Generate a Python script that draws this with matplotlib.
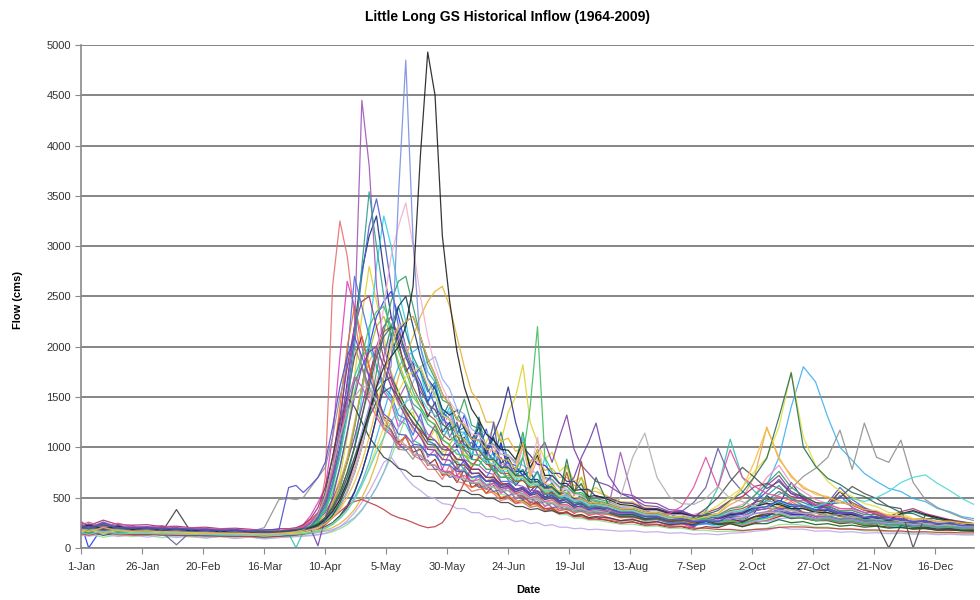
import matplotlib
matplotlib.use("Agg")
import matplotlib.pyplot as plt

plt.rcParams["font.family"] = ["Liberation Sans", "DejaVu Sans"]

# -------------------------
# Sample days (day of year, leap-year calendar as on the chart axis)
# -------------------------
WINTER_DAYS = [1, 4, 10, 16, 22, 28, 34, 40, 46, 52, 58, 64, 70, 76, 82, 86]
SPRING_DAYS = list(range(89, 213, 3))   # 89 .. 212
FALL_DAYS = list(range(217, 368, 5))    # 217 .. 367
DAYS = WINTER_DAYS + SPRING_DAYS + FALL_DAYS

TICK_DAYS = [1, 26, 51, 76, 101, 126, 151, 176, 201, 226, 251, 276, 301, 326, 351]
TICK_LABELS = ["1-Jan", "26-Jan", "20-Feb", "16-Mar", "10-Apr", "5-May", "30-May",
               "24-Jun", "19-Jul", "13-Aug", "7-Sep", "2-Oct", "27-Oct", "21-Nov", "16-Dec"]

YEARS = list(range(1964, 2010))

COLORS = {
    1964: "#1f2a80", 1965: "#e040c0", 1966: "#e0d030", 1967: "#30d0e8",
    1968: "#8040a0", 1969: "#902020", 1970: "#208080", 1971: "#2040f0",
    1972: "#40b0f0", 1973: "#90e090", 1974: "#e87070", 1975: "#90b0f0",
    1976: "#f090c0", 1977: "#c0a8e8", 1978: "#f0a050", 1979: "#4070f0",
    1980: "#30c0b0", 1981: "#a0c020", 1982: "#e8b030", 1983: "#f07020",
    1984: "#6060a0", 1985: "#909090", 1986: "#104060", 1987: "#30a060",
    1988: "#106020", 1989: "#a05030", 1990: "#a03070", 1991: "#303090",
    1992: "#404040", 1993: "#a058b8", 1994: "#4a5cc8", 1995: "#30a090",
    1996: "#f0b0d0", 1997: "#7b8fe0", 1998: "#c04040", 1999: "#40c060",
    2000: "#e0e040", 2001: "#505050", 2002: "#202020", 2003: "#7040b0",
    2004: "#e050a0", 2005: "#50d8d0", 2006: "#b0b0b0", 2007: "#2a6f5a",
    2008: "#5050d0", 2009: "#f0c040",
}

# -------------------------
# Flow (cms), Jan - Mar
# -------------------------
WINTER = {
    1964: [210, 170, 240, 160, 190, 150, 205, 140, 170, 130, 165, 125, 155, 120, 140, 170],
    1965: [260, 210, 240, 190, 220, 170, 210, 160, 190, 150, 175, 140, 160, 135, 150, 170],
    1966: [180, 210, 160, 195, 150, 185, 140, 170, 130, 160, 125, 150, 135, 120, 140, 150],
    1967: [150, 180, 135, 165, 145, 125, 155, 120, 145, 115, 135, 110, 130, 110, 125, 140],
    1968: [200, 230, 175, 215, 180, 205, 165, 190, 160, 185, 150, 175, 150, 165, 145, 170],
    1969: [160, 140, 185, 150, 135, 165, 125, 155, 130, 150, 120, 140, 125, 115, 135, 145],
    1970: [230, 195, 255, 190, 210, 180, 215, 170, 195, 165, 185, 160, 170, 150, 165, 165],
    1971: [230, 0, 215, 175, 205, 165, 195, 155, 175, 145, 170, 140, 155, 135, 155, 160],
    1972: [170, 150, 185, 140, 165, 135, 160, 130, 155, 125, 150, 122, 140, 125, 135, 145],
    1973: [120, 135, 105, 128, 112, 125, 100, 118, 108, 98, 112, 95, 108, 92, 102, 110],
    1974: [190, 215, 175, 205, 165, 190, 160, 180, 155, 175, 145, 165, 148, 140, 158, 165],
    1975: [140, 155, 125, 150, 130, 128, 142, 118, 132, 112, 128, 108, 122, 108, 117, 125],
    1976: [200, 170, 215, 180, 185, 190, 170, 175, 165, 165, 155, 160, 160, 140, 155, 160],
    1977: [130, 115, 138, 112, 128, 106, 122, 102, 118, 98, 112, 93, 108, 88, 102, 105],
    1978: [170, 195, 155, 185, 160, 155, 165, 150, 150, 145, 145, 140, 140, 138, 135, 150],
    1979: [210, 180, 225, 190, 190, 165, 195, 160, 178, 155, 172, 150, 155, 140, 158, 160],
    1980: [160, 180, 145, 170, 150, 145, 145, 140, 140, 135, 135, 130, 130, 128, 127, 140],
    1981: [190, 160, 205, 175, 170, 180, 160, 165, 155, 155, 150, 150, 145, 145, 140, 150],
    1982: [150, 135, 165, 140, 140, 145, 135, 135, 130, 130, 124, 126, 124, 112, 128, 130],
    1983: [220, 190, 245, 200, 200, 205, 185, 195, 180, 185, 175, 175, 168, 165, 163, 175],
    1984: [180, 160, 195, 165, 165, 170, 155, 30, 165, 145, 170, 140, 145, 145, 138, 145],
    1985: [200, 170, 215, 180, 180, 185, 170, 175, 165, 165, 160, 160, 160, 200, 480, 490],
    1986: [170, 190, 155, 180, 160, 155, 155, 150, 150, 145, 145, 140, 140, 135, 135, 150],
    1987: [210, 240, 195, 225, 190, 185, 195, 180, 180, 175, 175, 165, 160, 160, 155, 170],
    1988: [140, 160, 125, 150, 130, 130, 135, 125, 125, 122, 120, 116, 116, 113, 114, 125],
    1989: [190, 170, 205, 180, 175, 180, 165, 170, 160, 160, 155, 155, 155, 135, 150, 155],
    1990: [250, 220, 275, 230, 225, 230, 210, 215, 200, 205, 190, 195, 185, 170, 190, 190],
    1991: [160, 145, 175, 150, 150, 155, 145, 145, 140, 140, 135, 135, 135, 120, 137, 140],
    1992: [170, 150, 185, 160, 160, 165, 155, 380, 155, 155, 150, 150, 145, 145, 140, 145],
    1993: [230, 200, 255, 210, 205, 210, 195, 200, 185, 190, 175, 180, 170, 165, 165, 175],
    1994: [200, 175, 220, 185, 185, 190, 175, 180, 170, 170, 160, 165, 155, 150, 150, 160],
    1995: [180, 205, 165, 195, 170, 165, 175, 160, 160, 155, 155, 150, 145, 145, 140, 155],
    1996: [150, 170, 135, 160, 140, 140, 145, 135, 135, 130, 130, 125, 125, 125, 123, 135],
    1997: [190, 165, 205, 170, 175, 180, 165, 170, 160, 160, 155, 155, 150, 145, 145, 155],
    1998: [140, 125, 155, 130, 130, 135, 125, 125, 120, 120, 115, 115, 112, 103, 115, 118],
    1999: [170, 150, 185, 155, 155, 160, 150, 150, 145, 145, 140, 140, 138, 127, 140, 145],
    2000: [160, 180, 145, 175, 150, 150, 155, 145, 145, 140, 140, 135, 130, 132, 128, 140],
    2001: [180, 160, 195, 170, 170, 175, 160, 165, 155, 155, 150, 150, 145, 137, 150, 155],
    2002: [200, 225, 185, 215, 180, 205, 170, 195, 165, 185, 155, 180, 155, 160, 160, 170],
    2003: [190, 215, 175, 205, 170, 195, 160, 185, 155, 175, 145, 170, 145, 150, 150, 160],
    2004: [230, 255, 205, 245, 210, 205, 220, 195, 200, 190, 190, 180, 175, 175, 173, 185],
    2005: [150, 135, 165, 140, 143, 145, 135, 138, 133, 133, 127, 127, 130, 113, 129, 132],
    2006: [170, 190, 155, 180, 160, 155, 165, 150, 155, 145, 145, 140, 140, 140, 135, 150],
    2007: [210, 185, 230, 195, 195, 200, 185, 190, 180, 180, 170, 175, 165, 160, 163, 175],
    2008: [220, 195, 245, 200, 200, 205, 190, 195, 185, 185, 175, 180, 165, 180, 180, 600],
    2009: [180, 160, 200, 170, 165, 170, 155, 160, 150, 150, 145, 145, 142, 133, 145, 150],
}

# -------------------------
# Flow (cms), Apr - Jul (every 3 days)
# -------------------------
SPRING = {
    1964: [170, 200, 230, 330, 450, 720, 1100, 1650, 2200, 2750, 3100, 3300, 2750, 2300, 2050, 1750, 1850, 1500,
           1300, 1450, 1150, 1250, 1000, 1100, 880, 1250, 900, 760, 1050, 760, 620, 700, 560, 640, 500, 560,
           460, 520, 420, 470, 390, 410],
    1965: [180, 230, 320, 450, 600, 1100, 1900, 2650, 2400, 2000, 1700, 1950, 1550, 1450, 1200, 1300, 1050, 1150,
           900, 980, 780, 950, 720, 800, 640, 720, 580, 650, 540, 600, 480, 530, 440, 520, 410, 450,
           370, 400, 340, 380, 320, 340],
    1966: [160, 170, 190, 230, 300, 450, 700, 1100, 1700, 2300, 2800, 2450, 2100, 1750, 1550, 1300, 1350, 1100,
           1050, 1180, 950, 1000, 850, 980, 800, 920, 1050, 1200, 1050, 1350, 1500, 1820, 1250, 1050, 880, 950,
           760, 820, 660, 700, 560, 600],
    1967: [150, 160, 175, 200, 240, 330, 480, 700, 1000, 1500, 2100, 2800, 3300, 3000, 2550, 2250, 1850, 1750,
           1450, 1550, 1250, 1400, 1050, 1150, 920, 1080, 860, 950, 780, 850, 700, 1100, 760, 600, 900, 620,
           490, 540, 430, 470, 390, 410],
    1968: [180, 200, 230, 280, 350, 480, 650, 850, 1100, 1400, 1700, 2000, 2200, 2300, 2100, 1900, 1750, 1550,
           1450, 1300, 1350, 1100, 1250, 1000, 1050, 900, 980, 850, 900, 760, 800, 720, 850, 950, 1050, 850,
           1100, 1320, 980, 820, 740, 660],
    1969: [160, 190, 240, 340, 500, 750, 1100, 1500, 1900, 2100, 1800, 1550, 1300, 1250, 1050, 1100, 950, 980,
           820, 880, 720, 760, 650, 780, 600, 640, 540, 620, 490, 520, 440, 470, 420, 460, 370, 390,
           340, 360, 310, 330, 290, 300],
    1970: [170, 180, 190, 210, 250, 300, 400, 550, 750, 1000, 1300, 1600, 1900, 2200, 2400, 2150, 1900, 1750,
           1550, 1650, 1300, 1450, 1150, 1200, 980, 1300, 950, 880, 1150, 850, 720, 780, 650, 760, 600, 640,
           540, 580, 480, 520, 440, 460],
    1971: [170, 180, 200, 240, 300, 420, 600, 850, 1200, 1600, 2000, 2300, 2450, 2550, 2300, 2000, 1800, 1650,
           1450, 1620, 1350, 1280, 1120, 1320, 1080, 980, 1180, 920, 1020, 840, 820, 720, 760, 620, 640, 540,
           540, 480, 500, 430, 440, 390],
    1972: [150, 155, 165, 180, 200, 240, 300, 380, 500, 650, 850, 1100, 1350, 1600, 1800, 1900, 1950, 2000,
           1750, 1650, 1350, 1350, 1150, 1150, 980, 1000, 860, 900, 760, 800, 700, 720, 620, 660, 560, 580,
           500, 530, 450, 470, 410, 420],
    1973: [115, 120, 125, 130, 140, 160, 190, 230, 290, 370, 480, 600, 750, 900, 1100, 1300, 1400, 1250,
           1080, 1020, 880, 870, 780, 770, 690, 660, 610, 600, 530, 520, 470, 460, 410, 410, 370, 370,
           330, 330, 295, 295, 275, 275],
    1974: [180, 200, 230, 280, 700, 2600, 3250, 2900, 2300, 1800, 1500, 1450, 1200, 1150, 980, 1120, 920, 880,
           780, 780, 680, 820, 660, 640, 560, 580, 590, 540, 470, 490, 440, 450, 400, 420, 370, 380,
           340, 350, 320, 330, 300, 310],
    1975: [130, 135, 140, 150, 165, 180, 210, 250, 300, 380, 480, 600, 750, 950, 1200, 1450, 1650, 1800,
           1850, 1900, 1680, 1580, 1380, 1330, 1180, 1130, 1160, 1020, 970, 920, 860, 820, 770, 740, 690, 660,
           610, 580, 550, 520, 490, 470],
    1976: [170, 180, 200, 230, 280, 350, 450, 600, 800, 1050, 1350, 1650, 1900, 2100, 2200, 2000, 1800, 1600,
           1420, 1380, 1220, 1330, 1120, 1080, 980, 970, 880, 1020, 830, 820, 740, 1000, 700, 880, 600, 590,
           530, 520, 480, 480, 440, 440],
    1977: [110, 115, 120, 130, 145, 170, 210, 270, 350, 450, 560, 700, 850, 900, 800, 700, 620, 570,
           510, 490, 440, 430, 390, 390, 350, 350, 310, 310, 280, 290, 260, 270, 240, 250, 220, 230,
           205, 205, 190, 195, 180, 185],
    1978: [160, 175, 200, 250, 330, 450, 650, 900, 1250, 1600, 1850, 2000, 1800, 1620, 1420, 1330, 1170, 1130,
           980, 980, 870, 1030, 820, 830, 730, 750, 660, 720, 620, 620, 550, 560, 490, 510, 450, 470,
           420, 420, 380, 390, 350, 360],
    1979: [180, 200, 250, 330, 480, 750, 1200, 1900, 2700, 2400, 2100, 1800, 1600, 1520, 1320, 1280, 1120, 1330,
           1060, 1030, 920, 930, 980, 840, 780, 780, 700, 820, 660, 660, 580, 590, 530, 540, 480, 500,
           450, 450, 410, 410, 370, 380],
    1980: [0, 160, 200, 260, 380, 600, 900, 1300, 1700, 1900, 2000, 1800, 1580, 1480, 1270, 1230, 1070, 1030,
           920, 930, 820, 830, 860, 780, 700, 700, 630, 640, 580, 600, 530, 540, 480, 500, 450, 450,
           410, 410, 370, 380, 350, 360],
    1981: [160, 170, 190, 230, 300, 420, 600, 850, 1200, 1600, 1950, 2200, 2300, 2100, 1850, 1650, 1500, 1400,
           1270, 1230, 1070, 1030, 1130, 920, 880, 870, 780, 780, 700, 720, 660, 670, 600, 620, 550, 570,
           500, 820, 560, 700, 480, 430],
    1982: [135, 140, 150, 160, 175, 200, 240, 300, 380, 500, 650, 850, 1100, 1400, 1700, 1900, 2100, 2300,
           2450, 2550, 2600, 2400, 2100, 1800, 1550, 1450, 1250, 1250, 1060, 1090, 960, 990, 860, 890, 770, 790,
           700, 700, 620, 620, 560, 560],
    1983: [190, 220, 280, 350, 450, 800, 1400, 2000, 2400, 2100, 1800, 1520, 1280, 1170, 1030, 1120, 930, 920,
           830, 820, 730, 720, 800, 640, 600, 620, 540, 560, 500, 520, 460, 480, 430, 430, 390, 400,
           370, 380, 350, 360, 330, 340],
    1984: [150, 170, 210, 300, 450, 700, 1000, 1350, 1650, 1800, 1600, 1420, 1230, 1170, 1030, 970, 1020, 880,
           870, 780, 780, 700, 720, 660, 670, 600, 620, 560, 580, 520, 540, 480, 500, 440, 460, 400,
           410, 380, 390, 360, 370, 345],
    1985: [480, 500, 600, 700, 800, 1100, 1500, 1800, 2000, 1800, 1550, 1350, 1200, 1120, 980, 970, 880, 1020,
           830, 820, 740, 740, 820, 690, 640, 640, 580, 720, 560, 570, 500, 520, 460, 480, 420, 440,
           390, 390, 360, 370, 340, 350],
    1986: [155, 160, 170, 185, 210, 250, 320, 420, 560, 750, 1000, 1300, 1700, 2100, 2400, 2500, 2200, 1900,
           1680, 1580, 1380, 1320, 1370, 1180, 1080, 1200, 930, 1100, 840, 900, 760, 760, 680, 680, 600, 610,
           540, 550, 490, 490, 450, 450],
    1987: [175, 185, 200, 225, 260, 320, 420, 560, 750, 1000, 1350, 1750, 2150, 2450, 2650, 2700, 2400, 2100,
           1830, 1680, 1470, 1430, 1270, 1480, 1220, 1180, 1020, 1030, 930, 920, 840, 1150, 780, 980, 700, 680,
           600, 610, 540, 550, 490, 490],
    1988: [130, 140, 155, 180, 230, 320, 450, 620, 850, 1100, 1350, 1550, 1650, 1700, 1550, 1400, 1300, 1200,
           1080, 1070, 980, 970, 880, 870, 780, 780, 700, 700, 630, 640, 580, 600, 540, 560, 500, 520,
           460, 480, 420, 440, 380, 400],
    1989: [160, 175, 200, 240, 300, 400, 550, 750, 1000, 1300, 1650, 1950, 2150, 2200, 2000, 1800, 1600, 1450,
           1330, 1270, 1130, 1070, 1120, 980, 930, 920, 830, 820, 740, 740, 660, 670, 600, 610, 540, 550,
           490, 750, 520, 860, 480, 410],
    1990: [200, 230, 290, 400, 600, 900, 1300, 1800, 2200, 2450, 2500, 2200, 1880, 1670, 1480, 1370, 1230, 1170,
           1080, 1220, 1030, 970, 880, 870, 780, 780, 700, 700, 630, 640, 580, 600, 540, 560, 500, 520,
           470, 490, 430, 450, 400, 420],
    1991: [145, 150, 160, 175, 200, 240, 300, 400, 550, 750, 1000, 1300, 1600, 1900, 2150, 2250, 2300, 2100,
           1880, 1720, 1530, 1420, 1280, 1220, 1080, 1070, 980, 1120, 1300, 1600, 1250, 1000, 920, 830, 820, 740,
           740, 660, 660, 580, 580, 510],
    1992: [150, 170, 220, 330, 550, 900, 1250, 1500, 1400, 1250, 1100, 1000, 900, 860, 790, 770, 710, 710,
           670, 660, 610, 610, 570, 570, 530, 530, 490, 490, 450, 450, 410, 410, 380, 390, 360, 370,
           340, 350, 320, 330, 300, 310],
    1993: [185, 210, 260, 350, 500, 800, 1200, 1600, 2200, 4450, 3800, 2600, 2000, 1720, 1480, 1620, 1380, 1270,
           1130, 1070, 980, 970, 1070, 880, 840, 820, 750, 730, 820, 670, 630, 610, 570, 570, 530, 530,
           490, 490, 450, 460, 430, 430],
    1994: [170, 190, 230, 300, 420, 650, 1000, 1500, 2100, 2700, 3200, 3470, 3100, 2600, 2200, 1900, 1700, 1800,
           1580, 1420, 1280, 1220, 1130, 1070, 980, 1150, 880, 1250, 780, 860, 700, 700, 630, 640, 570, 580,
           520, 510, 470, 470, 430, 430],
    1995: [160, 175, 210, 280, 400, 620, 950, 1400, 2000, 2800, 3540, 3000, 2500, 2100, 1800, 1620, 1430, 1370,
           1230, 1170, 1080, 1220, 1030, 970, 880, 870, 780, 780, 700, 700, 630, 900, 620, 760, 530, 530,
           490, 490, 450, 450, 410, 410],
    1996: [140, 150, 165, 190, 230, 300, 400, 550, 750, 1000, 1400, 1900, 2400, 2900, 3200, 3430, 3000, 2500,
           2100, 1800, 1600, 1450, 1350, 1250, 1130, 1120, 1030, 1020, 930, 920, 830, 1000, 740, 1100, 680, 660,
           590, 580, 530, 520, 470, 470],
    1997: [160, 170, 190, 220, 270, 350, 480, 650, 900, 1150, 1400, 1600, 1700, 1800, 3500, 4850, 3050, 2000,
           1680, 1520, 1330, 1270, 1130, 1070, 980, 970, 880, 870, 780, 780, 700, 700, 630, 640, 570, 580,
           520, 510, 470, 470, 430, 430],
    1998: [125, 135, 150, 180, 230, 300, 360, 420, 460, 480, 450, 420, 380, 330, 300, 280, 250, 220,
           200, 210, 250, 350, 500, 650, 800, 900, 850, 760, 650, 620, 540, 510, 450, 440, 390, 390,
           350, 350, 310, 310, 285, 285],
    1999: [150, 165, 200, 260, 370, 550, 800, 1150, 1550, 1900, 2200, 2350, 2400, 2200, 1950, 1750, 1550, 1400,
           1280, 1220, 1080, 1020, 930, 920, 830, 820, 920, 760, 760, 680, 770, 900, 1400, 2200, 900, 760,
           640, 610, 550, 530, 480, 470],
    2000: [145, 150, 160, 175, 200, 240, 300, 380, 480, 620, 800, 1000, 1200, 1400, 1550, 1700, 1750, 1800,
           1620, 1530, 1320, 1280, 1120, 1080, 980, 970, 880, 870, 780, 780, 700, 700, 630, 640, 570, 580,
           520, 510, 470, 470, 430, 430],
    2001: [160, 170, 190, 220, 280, 380, 520, 700, 900, 1100, 1300, 1450, 1550, 1600, 1500, 1350, 1250, 1150,
           1030, 1020, 930, 920, 830, 820, 740, 740, 660, 660, 600, 610, 560, 580, 520, 540, 480, 500,
           440, 460, 400, 420, 360, 380],
    2002: [175, 185, 200, 230, 280, 360, 480, 650, 850, 1100, 1350, 1600, 1800, 1900, 2000, 2200, 2600, 3900,
           4930, 4500, 3100, 2450, 1950, 1600, 1380, 1270, 1130, 1070, 980, 970, 880, 1050, 800, 920, 720, 720,
           640, 640, 570, 580, 510, 520],
    2003: [165, 175, 190, 20, 300, 500, 800, 1150, 1500, 1800, 1950, 2000, 1800, 1600, 1450, 1300, 1200, 1100,
           980, 970, 880, 870, 780, 870, 740, 740, 660, 670, 600, 620, 560, 580, 520, 610, 640, 720,
           640, 610, 700, 900, 1050, 1240],
    2004: [190, 210, 260, 350, 500, 750, 1100, 1450, 1700, 1600, 1450, 1300, 1180, 1120, 1030, 1020, 930, 920,
           830, 820, 760, 760, 700, 720, 660, 680, 620, 640, 580, 600, 540, 560, 500, 520, 460, 480,
           430, 430, 390, 400, 370, 380],
    2005: [135, 140, 150, 165, 190, 230, 290, 370, 480, 620, 780, 950, 1100, 1250, 1380, 1450, 1500, 1500,
           1380, 1320, 1180, 1120, 1030, 1020, 930, 920, 840, 840, 760, 760, 680, 690, 620, 630, 560, 570,
           510, 510, 470, 470, 430, 430],
    2006: [160, 180, 230, 330, 520, 800, 1100, 1350, 1500, 1600, 1600, 1450, 1280, 1220, 1080, 1020, 930, 920,
           830, 820, 740, 740, 690, 690, 650, 650, 610, 610, 570, 570, 530, 530, 490, 490, 450, 450,
           410, 410, 380, 390, 360, 370],
    2007: [180, 190, 210, 240, 300, 400, 550, 750, 1000, 1300, 1600, 1900, 2100, 2200, 2150, 1950, 1750, 1600,
           1430, 1370, 1230, 1170, 1220, 1030, 980, 970, 880, 880, 800, 800, 720, 720, 650, 660, 590, 600,
           530, 880, 560, 640, 450, 700],
    2008: [620, 550, 620, 700, 850, 1200, 1600, 1900, 2100, 1900, 1700, 1500, 1330, 1270, 1130, 1120, 1030, 1020,
           930, 920, 830, 820, 760, 760, 700, 720, 660, 680, 620, 640, 580, 600, 540, 560, 500, 520,
           460, 480, 420, 440, 380, 400],
    2009: [155, 165, 180, 200, 240, 300, 380, 500, 650, 850, 1100, 1400, 1700, 2000, 2200, 2250, 2300, 2100,
           1880, 1720, 1530, 1420, 1280, 1220, 1080, 1070, 980, 970, 880, 870, 780, 1050, 700, 980, 640, 620,
           560, 550, 500, 490, 450, 450],
}

# -------------------------
# Flow (cms), Aug - Dec (every 5 days)
# -------------------------
FALL = {
    1964: [360, 310, 340, 270, 300, 240, 260, 210, 280, 240, 330, 270, 350, 520, 430, 650, 480, 400,
           420, 560, 430, 380, 330, 300, 250, 270, 220, 240, 200, 210, 185],
    1965: [300, 270, 290, 240, 260, 220, 240, 200, 310, 260, 290, 230, 280, 330, 380, 440, 350, 310,
           380, 320, 270, 310, 250, 260, 220, 240, 200, 210, 180, 190, 170],
    1966: [500, 430, 460, 360, 380, 310, 300, 250, 280, 230, 260, 240, 310, 360, 430, 500, 420, 380,
           330, 360, 280, 300, 240, 250, 220, 230, 200, 200, 180, 175, 160],
    1967: [360, 310, 330, 260, 290, 240, 260, 220, 240, 210, 260, 230, 270, 300, 330, 380, 310, 290,
           300, 260, 280, 230, 250, 220, 210, 220, 190, 195, 180, 180, 170],
    1968: [620, 540, 520, 450, 440, 380, 370, 320, 340, 300, 320, 350, 450, 620, 720, 560, 500, 420,
           420, 360, 350, 310, 300, 270, 270, 250, 250, 230, 220, 210, 200],
    1969: [270, 240, 260, 220, 230, 200, 210, 180, 210, 200, 240, 210, 250, 270, 310, 340, 290, 270,
           270, 240, 250, 220, 220, 205, 200, 190, 190, 175, 175, 170, 165],
    1970: [410, 370, 380, 320, 330, 280, 300, 280, 350, 310, 320, 360, 400, 470, 560, 490, 450, 400,
           400, 340, 340, 300, 300, 270, 330, 360, 320, 300, 270, 240, 210],
    1971: [390, 340, 350, 290, 300, 250, 250, 220, 260, 300, 260, 240, 280, 310, 370, 420, 350, 320,
           320, 270, 290, 240, 250, 220, 225, 205, 205, 190, 192, 182, 180],
    1972: [390, 340, 340, 290, 300, 250, 260, 230, 240, 270, 300, 360, 440, 620, 900, 1400, 1800, 1650,
           1300, 1000, 870, 740, 660, 590, 560, 490, 460, 390, 360, 310, 290],
    1973: [255, 235, 235, 215, 215, 195, 195, 175, 175, 160, 165, 165, 185, 195, 230, 235, 225, 205,
           205, 185, 185, 168, 168, 158, 158, 148, 148, 138, 142, 132, 130],
    1974: [290, 270, 280, 250, 260, 230, 240, 230, 270, 240, 250, 220, 260, 270, 330, 350, 340, 290,
           300, 270, 280, 250, 260, 230, 235, 215, 215, 195, 200, 185, 185],
    1975: [440, 400, 390, 350, 350, 310, 310, 280, 290, 260, 270, 240, 270, 260, 290, 300, 300, 270,
           280, 255, 255, 235, 240, 225, 228, 215, 218, 205, 208, 195, 195],
    1976: [420, 380, 380, 340, 340, 300, 310, 330, 370, 330, 390, 430, 520, 700, 820, 640, 560, 480,
           440, 390, 380, 330, 330, 290, 290, 260, 270, 245, 245, 225, 220],
    1977: [175, 165, 170, 155, 160, 145, 150, 135, 140, 130, 145, 150, 165, 175, 205, 185, 185, 165,
           170, 155, 160, 145, 150, 140, 145, 135, 140, 130, 135, 128, 128],
    1978: [340, 300, 300, 270, 280, 250, 260, 250, 310, 340, 430, 490, 710, 1200, 880, 720, 590, 550,
           490, 470, 410, 390, 340, 330, 295, 285, 255, 255, 235, 235, 220],
    1979: [360, 320, 320, 280, 280, 250, 260, 230, 240, 230, 270, 270, 310, 330, 390, 340, 330, 290,
           380, 520, 400, 350, 300, 270, 245, 225, 225, 205, 205, 190, 190],
    1980: [340, 300, 310, 280, 290, 260, 270, 270, 360, 600, 1080, 700, 560, 470, 440, 390, 390, 350,
           350, 310, 310, 280, 290, 260, 265, 245, 245, 225, 225, 205, 200],
    1981: [410, 370, 370, 330, 330, 290, 300, 270, 280, 250, 260, 280, 290, 330, 360, 320, 320, 280,
           290, 260, 270, 240, 245, 225, 230, 210, 220, 205, 208, 195, 195],
    1982: [510, 460, 450, 400, 390, 350, 350, 310, 310, 280, 290, 290, 340, 350, 410, 370, 360, 320,
           320, 280, 290, 260, 265, 245, 245, 225, 225, 210, 212, 200, 200],
    1983: [330, 300, 310, 280, 290, 260, 270, 240, 280, 310, 270, 260, 300, 360, 400, 460, 390, 360,
           350, 310, 310, 270, 275, 255, 255, 235, 235, 215, 212, 200, 195],
    1984: [350, 310, 310, 280, 290, 300, 360, 450, 600, 990, 700, 560, 470, 440, 390, 390, 350, 350,
           320, 330, 300, 310, 280, 290, 260, 270, 240, 250, 220, 230, 210],
    1985: [340, 310, 320, 290, 300, 270, 280, 280, 330, 290, 350, 370, 430, 450, 530, 590, 710, 790,
           900, 1170, 780, 1240, 900, 850, 1070, 650, 480, 400, 350, 300, 270],
    1986: [430, 390, 390, 350, 350, 310, 310, 280, 290, 260, 300, 310, 370, 390, 450, 410, 410, 370,
           370, 330, 330, 290, 295, 270, 275, 255, 255, 235, 235, 215, 215],
    1987: [460, 410, 410, 370, 370, 330, 330, 300, 310, 320, 390, 410, 520, 640, 760, 600, 520, 450,
           410, 370, 370, 330, 330, 290, 290, 260, 270, 245, 245, 225, 225],
    1988: [370, 330, 330, 290, 300, 270, 280, 250, 260, 230, 240, 210, 240, 240, 280, 250, 260, 230,
           240, 215, 225, 205, 215, 195, 205, 185, 195, 175, 185, 168, 170],
    1989: [390, 350, 350, 310, 310, 270, 280, 250, 290, 310, 370, 390, 450, 490, 470, 420, 410, 360,
           430, 560, 450, 390, 330, 280, 265, 245, 245, 225, 225, 205, 200],
    1990: [400, 360, 360, 320, 320, 290, 300, 290, 350, 390, 470, 510, 610, 640, 590, 510, 490, 430,
           430, 450, 430, 370, 360, 310, 360, 390, 340, 310, 280, 260, 240],
    1991: [500, 450, 440, 390, 390, 350, 350, 310, 310, 280, 290, 260, 310, 320, 370, 330, 330, 290,
           300, 270, 280, 250, 258, 232, 235, 215, 225, 205, 215, 195, 200],
    1992: [300, 270, 280, 250, 260, 230, 240, 230, 270, 240, 250, 250, 310, 340, 330, 290, 300, 270,
           280, 250, 260, 230, 240, 0, 225, 205, 205, 185, 190, 175, 175],
    1993: [390, 950, 500, 380, 310, 280, 290, 260, 270, 270, 310, 310, 370, 390, 390, 350, 350, 310,
           310, 280, 290, 260, 270, 240, 245, 225, 225, 205, 210, 195, 195],
    1994: [410, 370, 370, 330, 330, 290, 300, 270, 280, 280, 330, 340, 390, 410, 470, 420, 410, 370,
           450, 600, 480, 400, 350, 300, 275, 250, 255, 235, 235, 215, 210],
    1995: [390, 350, 350, 310, 310, 280, 290, 260, 300, 320, 320, 290, 380, 520, 620, 480, 420, 360,
           320, 290, 300, 270, 275, 250, 255, 235, 235, 215, 215, 200, 195],
    1996: [450, 410, 410, 370, 370, 330, 330, 300, 310, 280, 290, 310, 340, 350, 350, 310, 320, 290,
           300, 270, 280, 250, 255, 240, 245, 230, 235, 220, 225, 210, 210],
    1997: [410, 370, 370, 330, 330, 290, 300, 270, 280, 250, 290, 290, 340, 360, 360, 320, 320, 290,
           300, 270, 280, 250, 255, 235, 240, 225, 230, 215, 220, 205, 205],
    1998: [275, 255, 255, 235, 235, 215, 215, 195, 195, 182, 183, 172, 182, 188, 203, 208, 207, 198,
           197, 188, 187, 178, 177, 168, 167, 158, 160, 153, 154, 148, 148],
    1999: [440, 390, 390, 350, 350, 310, 310, 280, 290, 260, 270, 240, 280, 290, 340, 300, 300, 270,
           280, 250, 260, 230, 240, 220, 230, 210, 220, 200, 210, 190, 195],
    2000: [410, 370, 370, 330, 330, 290, 300, 300, 350, 420, 510, 600, 760, 900, 1200, 1750, 1100, 820,
           660, 560, 510, 440, 410, 350, 340, 290, 290, 250, 255, 235, 230],
    2001: [350, 310, 310, 280, 290, 260, 270, 300, 390, 500, 660, 800, 700, 590, 660, 540, 510, 450,
           440, 500, 610, 540, 490, 410, 390, 0, 330, 280, 280, 245, 230],
    2002: [480, 430, 420, 380, 380, 340, 340, 320, 320, 290, 330, 340, 410, 440, 430, 390, 390, 350,
           350, 320, 330, 300, 305, 280, 340, 370, 330, 300, 270, 240, 220],
    2003: [720, 540, 490, 420, 410, 360, 360, 320, 320, 290, 340, 350, 450, 560, 680, 540, 480, 420,
           390, 350, 350, 310, 310, 280, 290, 260, 270, 240, 245, 225, 220],
    2004: [370, 340, 350, 320, 330, 340, 410, 600, 900, 600, 975, 700, 610, 540, 510, 470, 470, 430,
           430, 390, 390, 350, 350, 310, 310, 280, 290, 260, 265, 245, 240],
    2005: [410, 370, 370, 330, 330, 300, 310, 290, 310, 310, 360, 370, 410, 410, 460, 420, 420, 410,
           450, 450, 490, 460, 500, 560, 650, 700, 725, 640, 570, 490, 430],
    2006: [350, 500, 900, 1140, 700, 510, 440, 430, 490, 610, 490, 460, 410, 410, 370, 370, 340, 350,
           320, 330, 300, 310, 280, 290, 260, 270, 240, 250, 220, 230, 210],
    2007: [430, 390, 390, 350, 350, 310, 310, 280, 330, 370, 470, 550, 710, 890, 1300, 1740, 1000, 810,
           690, 630, 550, 510, 440, 410, 350, 340, 290, 290, 255, 255, 240],
    2008: [390, 350, 350, 310, 310, 280, 290, 260, 270, 260, 320, 330, 390, 410, 470, 430, 420, 380,
           380, 340, 340, 300, 305, 280, 285, 260, 265, 240, 245, 220, 220],
    2009: [430, 390, 390, 350, 350, 310, 310, 280, 310, 340, 460, 590, 860, 1190, 900, 700, 610, 530,
           510, 450, 430, 380, 370, 320, 320, 280, 290, 260, 265, 245, 240],
}

for yr in YEARS:
    assert len(WINTER[yr]) == len(WINTER_DAYS), ("winter", yr, len(WINTER[yr]))
    assert len(SPRING[yr]) == len(SPRING_DAYS), ("spring", yr, len(SPRING[yr]))
    assert len(FALL[yr]) == len(FALL_DAYS), ("fall", yr, len(FALL[yr]))

# -------------------------
# Plot
# -------------------------
fig = plt.figure(figsize=(9.8, 6.0), dpi=100)
ax = fig.add_axes([0.083, 0.087, 0.911, 0.838])

for yr in YEARS:
    flow = WINTER[yr] + SPRING[yr] + FALL[yr]
    ax.plot(DAYS, flow, color=COLORS[yr], linewidth=0.9, alpha=0.9, label=str(yr))

ax.set_xlim(1, 367)
ax.set_ylim(0, 5000)
ax.set_yticks(range(0, 5001, 500))
ax.set_xticks(TICK_DAYS)
ax.set_xticklabels(TICK_LABELS)

ax.yaxis.grid(True, color="#858585", linewidth=1.4)
ax.set_axisbelow(True)

for side in ["top", "right"]:
    ax.spines[side].set_visible(False)
for side in ["left", "bottom"]:
    ax.spines[side].set_color("#8a8a8a")
    ax.spines[side].set_linewidth(1.2)

ax.tick_params(axis="both", direction="out", length=4, color="#8a8a8a",
               labelsize=8, labelcolor="#333333")
ax.tick_params(axis="x", pad=6)

fig.text(0.518, 0.972, "Little Long GS Historical Inflow (1964-2009)",
         ha="center", va="center", fontsize=10, fontweight="bold")
fig.text(0.539, 0.016, "Date", ha="center", va="center", fontsize=8, fontweight="bold")
fig.text(0.018, 0.50, "Flow (cms)", ha="center", va="center", rotation=90,
         fontsize=8, fontweight="bold")

fig.savefig("out.png", dpi=100)
